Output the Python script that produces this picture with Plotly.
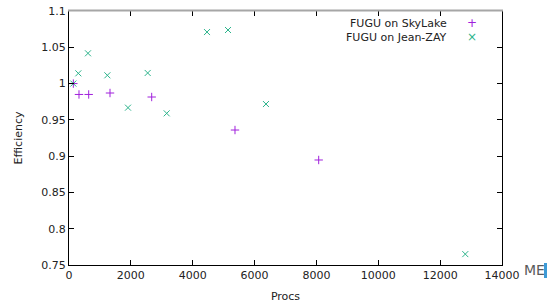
import plotly.graph_objects as go

sky_procs = [140, 323, 637, 1326, 2674, 5367, 8073]
sky_eff = [1.0, 0.985, 0.985, 0.987, 0.9815, 0.936, 0.8947]

jz_procs = [140, 302, 614, 1240, 1908, 2544, 3159, 4462, 5141, 6369, 12813]
jz_eff = [1.0, 1.0141, 1.0417, 1.0114, 0.9668, 1.0146, 0.959, 1.071, 1.0738, 0.9718, 0.765]

y_ticks = [0.75, 0.8, 0.85, 0.9, 0.95, 1.0, 1.05, 1.1]
y_labels = ["0.75", "0.8", "0.85", "0.9", "0.95", "1", "1.05", "1.1"]
x_ticks = [0, 2000, 4000, 6000, 8000, 10000, 12000, 14000]
x_labels = [str(v) for v in x_ticks]

purple = "#a020dc"
green = "#2db48c"
font = "DejaVu Sans"

fig = go.Figure()
fig.add_trace(go.Scatter(x=sky_procs, y=sky_eff, mode="markers", name="FUGU on SkyLake",
                         marker=dict(symbol="cross-thin", size=6, line=dict(color=purple, width=1), color=purple)))
fig.add_trace(go.Scatter(x=jz_procs, y=jz_eff, mode="markers", name="FUGU on Jean-ZAY",
                         marker=dict(symbol="x-thin", size=6, line=dict(color=green, width=1), color=green)))

axis_common = dict(showline=True, linecolor="#000000", linewidth=1, mirror="allticks",
                   ticks="inside", ticklen=5, tickcolor="#000000", showgrid=False, zeroline=False,
                   automargin=False,
                   tickfont=dict(family=font, size=11, color="#222222"))

PL, PR, PT, PB = 69, 502, 11, 265  # plot area in pixels
W, H = 547, 303

fig.update_layout(
    width=W, height=H,
    margin=dict(l=PL, r=W - PR, t=PT, b=H - PB),
    paper_bgcolor="white", plot_bgcolor="white",
    showlegend=False,
    font=dict(family=font, size=11, color="#222222"),
    xaxis=dict(range=[0, 14000], tickvals=x_ticks, ticktext=x_labels, **axis_common,
               title=dict(text="Procs", font=dict(family=font, size=11), standoff=12)),
    yaxis=dict(range=[0.75, 1.1], tickvals=y_ticks, ticktext=y_labels, **axis_common,
               title=dict(text="Efficiency", font=dict(family=font, size=11), standoff=16)),
)

def px(xp):
    return (xp - PL) / (PR - PL)

def py(yp):
    return (PB - yp) / (PB - PT)

# grey top border as in the reference
fig.add_shape(type="line", xref="paper", yref="paper", x0=px(PL - 1), x1=px(PR + 1), y0=py(10.5), y1=py(10.5),
              line=dict(color="#a6a6a6", width=2), layer="above")

# gnuplot-style legend: text right-aligned, sample marker on the right
leg = [("FUGU on SkyLake", "+", purple, 23), ("FUGU on Jean-ZAY", "×", green, 37)]
for txt, sym, col, ypx in leg:
    fig.add_annotation(xref="paper", yref="paper", x=px(449), y=py(ypx),
                       text=txt, showarrow=False, xanchor="right", yanchor="middle",
                       font=dict(family=font, size=11, color="#222222"))
    fig.add_annotation(xref="paper", yref="paper", x=px(472), y=py(ypx),
                       text=sym, showarrow=False, xanchor="center", yanchor="middle",
                       font=dict(family=font, size=12, color=col))

# partial logo at bottom-right
fig.add_annotation(xref="paper", yref="paper", x=px(522), y=py(270),
                   text="ME", showarrow=False, xanchor="left", yanchor="middle",
                   font=dict(family=font, size=14, color="#5a5a5a"))
fig.add_shape(type="rect", xref="paper", yref="paper", x0=px(544), x1=px(547), y0=py(263), y1=py(278),
              fillcolor="#3d9bd6", line=dict(width=0))

fig.write_html("out.html", config={"displayModeBar": False},
               post_script="document.body.style.margin='0';")
